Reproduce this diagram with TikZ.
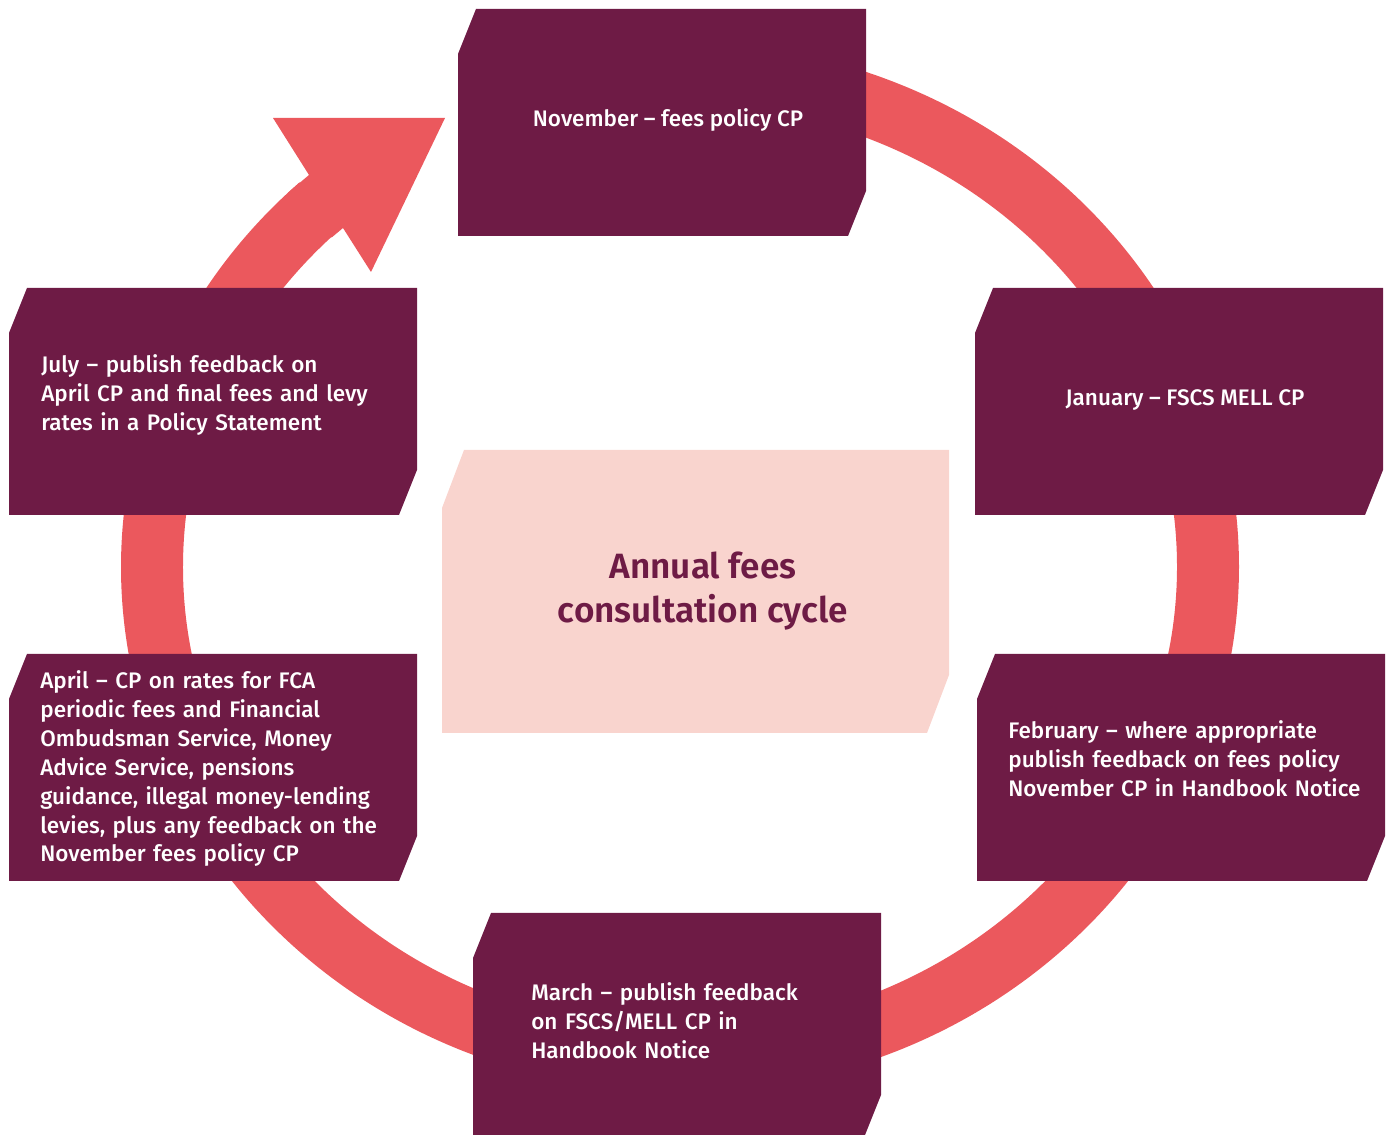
\documentclass[tikz,border=0pt]{standalone}
\usepackage{fontspec}
\setmainfont{Fira Sans}[UprightFont={* Medium}, BoldFont={* SemiBold}]
\usetikzlibrary{calc}
\definecolor{cyclered}{HTML}{EB585D}
\definecolor{feepurple}{HTML}{6E1B45}
\definecolor{feepink}{HTML}{F9D4CE}

\begin{document}
\begin{tikzpicture}[x=0.02cm, y=0.02cm,
    boxtext/.style={text=white, inner sep=0, font=\fontsize{12.8}{16.4}\selectfont},
    steptext/.style={boxtext, text width=7.6cm, align=left, anchor=base west}]
          \useasboundingbox (0,0) rectangle (1390,1135);
          \coordinate (ctr) at (680,568);
          % Cycle ring
          \draw[cyclered, line width=1.24cm] ([shift={(133:528 and 494)}]ctr) arc[start angle=133, end angle=460, x radius=528, y radius=494];
          % Arrow head
          \fill[cyclered] (309,960) -- (273,1017) -- (445,1017) -- (371,863) -- (343,907) -- ([shift={(134.5:497 and 462)}]ctr) -- ([shift={(134.5:559 and 525)}]ctr) -- cycle;
          % Month boxes
          \fill[feepurple] (458,899) -- ++(390,0) -- ++(18,45) -- ++(0,182) -- ++(-390,0) -- ++(-18,-45) -- cycle;
          \fill[feepurple] (975,620) -- ++(390,0) -- ++(18,45) -- ++(0,182) -- ++(-390,0) -- ++(-18,-45) -- cycle;
          \fill[feepurple] (977,254) -- ++(390,0) -- ++(18,45) -- ++(0,182) -- ++(-390,0) -- ++(-18,-45) -- cycle;
          \fill[feepurple] (473,-5) -- ++(390,0) -- ++(18,45) -- ++(0,182) -- ++(-390,0) -- ++(-18,-45) -- cycle;
          \fill[feepurple] (9,254) -- ++(390,0) -- ++(18,45) -- ++(0,182) -- ++(-390,0) -- ++(-18,-45) -- cycle;
          \fill[feepurple] (9,620) -- ++(390,0) -- ++(18,45) -- ++(0,182) -- ++(-390,0) -- ++(-18,-45) -- cycle;
          % Centre box
          \fill[feepink] (442,402) -- ++(485,0) -- ++(22,58) -- ++(0,225) -- ++(-485,0) -- ++(-22,-58) -- cycle;
          % Labels
          \node[boxtext, anchor=base] (nov) at (668,1008) {November – fees policy CP};
          \node[boxtext, anchor=base] (jan) at (1185,729) {January – FSCS MELL CP};
          \node[steptext] (feb) at (1008,396) {February – where appropriate\\ publish feedback on fees policy\\ November CP in Handbook Notice};
          \node[steptext] (mar) at (531,134) {March – publish feedback\\ on FSCS/MELL CP in\\ Handbook Notice};
          \node[steptext] (apr) at (40,446) {April – CP on rates for FCA\\ periodic fees and Financial\\ Ombudsman Service, Money\\ Advice Service, pensions\\ guidance, illegal money-lending\\ levies, plus any feedback on the\\ November fees policy CP};
          \node[steptext] (jul) at (41,762) {July – publish feedback on\\ April CP and final fees and levy\\ rates in a Policy Statement};
          \node[inner sep=0, text=feepurple, align=center, anchor=base, font=\fontsize{20}{25.6}\selectfont\bfseries] (cycle) at (703,512) {Annual fees\\ consultation cycle};
        \end{tikzpicture}
\end{document}
